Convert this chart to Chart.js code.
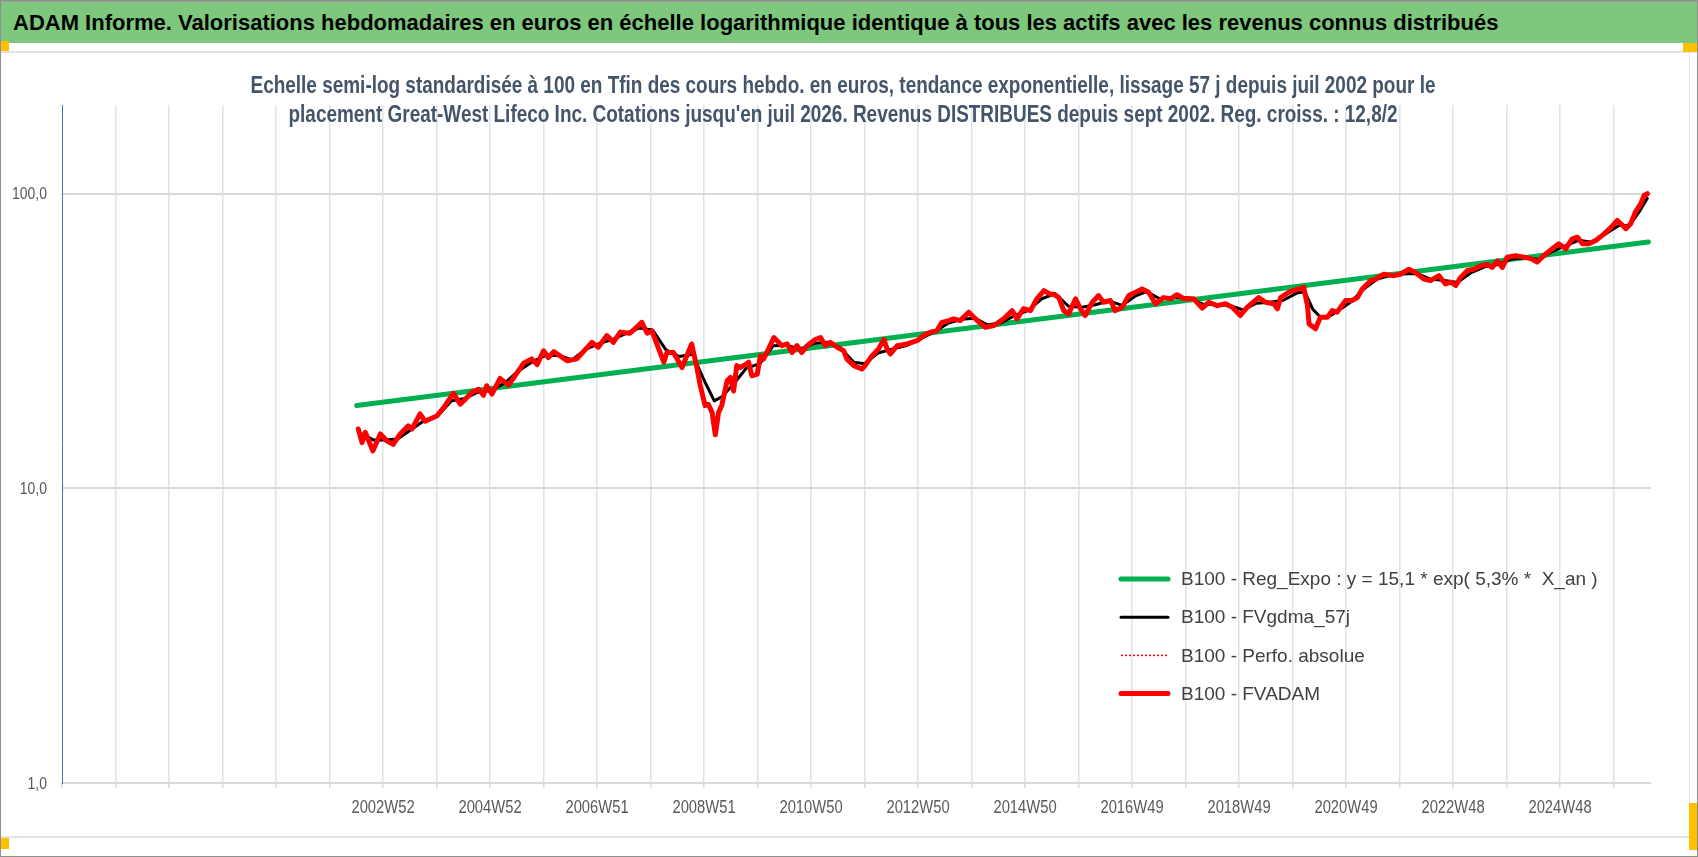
<!DOCTYPE html>
<html><head><meta charset="utf-8">
<script src="https://cdn.jsdelivr.net/npm/chart.js@4.4.1/dist/chart.umd.min.js"></script>
<style>
html,body{margin:0;padding:0;background:#fff;}
#wrap{position:relative;width:1698px;height:857px;overflow:hidden;font-family:"Liberation Sans",Arial,sans-serif;background:#fff;}
#c{position:absolute;left:0;top:0;}
#frame{position:absolute;left:0;top:0;width:1696px;height:855px;border:1px solid #8E8E8E;pointer-events:none;}
#topline{position:absolute;left:0;top:0;width:1698px;height:2px;background:#A0A0A0;}
#bar{position:absolute;left:0;top:2px;width:1698px;height:41px;background:#7DC87D;}
#bar span{position:absolute;left:13px;top:0;line-height:42px;font-weight:bold;font-size:22px;color:#000;white-space:nowrap;}
#l1{position:absolute;left:0;top:51px;width:1698px;height:2px;background:#E3E3E3;}
#l2{position:absolute;left:0;top:836px;width:1698px;height:2px;background:#E3E3E3;}
#l3{position:absolute;left:1689px;top:53px;width:1px;height:783px;background:#E3E3E3;}
.h{position:absolute;background:#FFC000;}
#sub{position:absolute;left:0;width:1686px;top:71px;text-align:center;font-weight:bold;font-size:23px;line-height:29px;color:#44546A;white-space:nowrap;transform:scaleX(0.824);transform-origin:843px 0;}
</style></head>
<body>
<div id="wrap">
<canvas id="c" width="1698" height="857"></canvas>
<div id="topline"></div>
<div id="bar"><span>ADAM Informe. Valorisations hebdomadaires en euros en échelle logarithmique identique à tous les actifs avec les revenus connus distribués</span></div>
<div id="l1"></div><div id="l2"></div><div id="l3"></div>
<div class="h" style="left:0;top:41px;width:9px;height:10px"></div>
<div class="h" style="left:1683px;top:43px;width:15px;height:9px"></div>
<div class="h" style="left:0;top:838px;width:9px;height:11px"></div>
<div class="h" style="left:1689px;top:803px;width:9px;height:47px"></div>
<div id="sub">Echelle semi-log standardisée à 100 en Tfin des cours hebdo. en euros, tendance exponentielle, lissage 57 j depuis juil 2002 pour le<br>placement Great-West Lifeco Inc. Cotations jusqu'en juil 2026. Revenus DISTRIBUES depuis sept 2002. Reg. croiss. : 12,8/2</div>
<div id="frame"></div>
</div>
<script>
// ---- Data ----
const xTickLabels = ['2002W52','2004W52','2006W51','2008W51','2010W50','2012W50','2014W50','2016W49','2018W49','2020W49','2022W48','2024W48'];
const yTickValues = [1, 10, 100];
const yTickLabels = ['1,0', '10,0', '100,0'];

const seriesNames = [
  'B100 - Reg_Expo : y = 15,1 * exp( 5,3% *  X_an )',
  'B100 - FVgdma_57j',
  'B100 - Perfo. absolue',
  'B100 - FVADAM'
];

const regYears  = [2002.49, 2026.55];
const regValues = [19.1, 68.6];

const fvadamYears = [
2002.52,2002.59,2002.65,2002.79,2002.93,2003.05,2003.17,2003.30,2003.45,2003.52,2003.67,2003.76,2003.98,2004.11,2004.29,2004.42,2004.64,2004.76,2004.85,2004.91,
2005.01,2005.16,2005.32,2005.60,2005.75,2005.85,2005.97,2006.06,2006.16,2006.41,2006.59,2006.87,2006.99,2007.15,2007.27,2007.40,2007.58,2007.80,2007.90,2007.99,
2008.08,2008.21,2008.27,2008.39,2008.55,2008.73,2008.83,2008.89,2008.98,2009.04,2009.11,2009.17,2009.23,2009.29,2009.39,2009.45,2009.51,2009.57,2009.63,2009.73,
2009.79,2009.85,2009.95,2010.01,2010.07,2010.16,2010.26,2010.32,2010.41,2010.51,2010.60,2010.69,2010.78,2010.88,2011.03,2011.13,2011.22,2011.31,2011.44,2011.56,
2011.62,2011.75,2011.90,2011.96,2012.09,2012.21,2012.31,2012.37,2012.43,2012.56,2012.74,2012.93,2013.05,2013.18,2013.30,2013.39,2013.52,2013.61,2013.73,2013.89,
2014.05,2014.20,2014.36,2014.54,2014.70,2014.79,2014.91,2015.04,2015.16,2015.29,2015.41,2015.47,2015.57,2015.66,2015.75,2015.88,2015.97,2016.06,2016.19,2016.31,
2016.40,2016.53,2016.62,2016.75,2016.87,2017.00,2017.12,2017.24,2017.37,2017.52,2017.65,2017.77,2017.90,2018.08,2018.24,2018.36,2018.52,2018.67,2018.80,2018.95,
2019.08,2019.29,2019.42,2019.57,2019.64,2019.70,2019.85,2020.04,2020.13,2020.20,2020.23,2020.35,2020.44,2020.57,2020.66,2020.75,2020.91,2021.03,2021.13,2021.22,
2021.38,2021.47,2021.62,2021.81,2021.93,2022.09,2022.21,2022.37,2022.49,2022.65,2022.77,2022.87,2022.96,2023.05,2023.18,2023.30,2023.42,2023.55,2023.64,2023.74,
2023.83,2023.92,2024.08,2024.23,2024.36,2024.48,2024.60,2024.76,2024.88,2025.01,2025.13,2025.23,2025.32,2025.44,2025.57,2025.72,2025.85,2025.97,2026.07,2026.13,
2026.22,2026.31,2026.41,2026.47,2026.53
];
const fvadamValues = [
15.9,14.3,15.5,13.4,15.3,14.5,14.1,15.3,16.3,15.9,17.9,16.9,17.6,18.8,21.0,19.3,21.2,21.7,20.7,22.3,
20.9,23.6,22.4,26.6,27.5,26.3,29.3,27.8,29.1,27.1,27.5,31.3,30.1,33.0,31.3,33.9,33.6,36.6,33.6,34.2,
30.9,26.8,28.9,28.9,25.7,30.9,25.5,22.3,19.1,19.3,18.1,15.2,18.1,19.1,23.2,23.8,21.4,26.1,25.7,26.3,
26.8,24.1,24.4,28.2,27.5,29.7,32.5,31.7,30.5,30.9,28.9,30.5,28.9,30.5,32.0,32.5,30.5,31.3,30.1,29.3,
27.5,26.1,25.4,26.1,28.2,29.7,32.0,29.7,28.6,30.5,30.9,31.7,33.0,33.9,34.3,36.6,37.1,37.6,37.1,39.6,
37.1,35.2,35.7,37.6,40.1,37.6,40.7,40.1,44.0,46.9,45.6,45.6,44.4,40.1,39.1,44.0,40.7,38.6,42.8,45.1,
42.8,43.4,40.1,41.2,45.1,46.3,47.5,46.3,42.3,44.4,44.0,45.4,44.0,44.0,40.9,42.8,41.7,42.3,41.2,38.6,
41.2,44.4,42.8,42.3,40.7,44.4,46.3,47.5,48.1,41.7,36.1,34.8,38.1,38.1,40.1,39.6,43.4,43.4,44.4,47.5,
50.7,51.3,53.3,52.7,53.3,55.4,54.0,51.3,50.7,52.7,49.4,50.1,48.8,51.9,54.9,55.4,56.9,57.5,56.2,59.1,
56.2,60.9,61.6,60.9,60.2,58.6,61.6,65.0,67.6,65.0,70.3,71.2,67.6,67.6,69.4,72.9,76.7,81.1,78.1,76.1,
79.1,86.7,92.5,98.6,100.0
];

const gdmaYears = [
2002.55,2002.8,2003.0,2003.25,2003.5,2003.75,2004.0,2004.25,2004.5,2004.75,2005.0,2005.25,2005.5,2005.75,2006.0,2006.25,2006.5,2006.75,2007.0,2007.25,
2007.5,2007.75,2008.0,2008.25,2008.5,2008.75,2008.95,2009.15,2009.3,2009.5,2009.75,2010.0,2010.25,2010.5,2010.75,2011.0,2011.25,2011.5,2011.75,2011.95,
2012.2,2012.5,2012.75,2013.0,2013.25,2013.5,2013.75,2014.0,2014.25,2014.5,2014.75,2015.0,2015.25,2015.5,2015.75,2016.0,2016.25,2016.5,2016.75,2017.0,
2017.2,2017.45,2017.75,2018.0,2018.25,2018.5,2018.75,2019.0,2019.25,2019.5,2019.75,2020.0,2020.15,2020.3,2020.45,2020.6,2020.75,2021.0,2021.25,2021.5,
2021.75,2022.0,2022.25,2022.5,2022.75,2023.0,2023.25,2023.5,2023.75,2024.0,2024.25,2024.5,2024.75,2025.0,2025.25,2025.5,2025.75,2026.0,2026.2,2026.4,2026.53
];
const gdmaValues = [
15.4,14.6,14.6,14.7,15.8,17.0,17.6,19.8,20.2,21.2,21.5,22.8,25.0,26.8,28.2,28.3,27.3,29.6,31.0,32.0,
33.5,35.0,34.5,29.5,28.0,28.5,23.5,19.8,20.5,22.5,25.6,26.5,30.5,30.6,29.6,31.0,31.3,30.0,26.8,26.5,
28.8,29.8,30.6,32.2,34.0,36.3,37.5,37.8,35.8,36.5,38.6,40.2,44.0,45.8,41.5,41.2,42.0,43.3,41.8,45.0,
46.5,44.0,44.5,44.3,42.2,42.0,41.8,40.3,42.5,42.8,43.5,46.0,46.5,40.5,38.0,38.3,39.8,42.8,47.5,51.3,
52.8,53.6,53.5,51.2,50.8,50.0,54.0,56.5,57.5,60.0,60.6,59.8,63.5,66.5,69.5,68.5,73.0,78.0,78.0,88.0,96.5
];

// ---- Axis geometry (week-based category spacing: one gridline per 52 weeks) ----
const weekStep = 364 / 365.25;
const firstLabelYear = 2002.98;
const firstLabelGrid = 6;
const axisStart = firstLabelYear - firstLabelGrid * weekStep;
const gridCount = 30;
const axisSpan = 29.70;
const axisEnd = axisStart + axisSpan * weekStep;
const gridPositions = [];
for (let k = 0; k < gridCount; k++) gridPositions.push(axisStart + k * weekStep);
const xLabelFor = i => (i >= firstLabelGrid && (i - firstLabelGrid) % 2 === 0) ? (xTickLabels[(i - firstLabelGrid) / 2] || '') : '';

const toXY = (xs, ys) => xs.map((x, i) => ({x: x, y: ys[i]}));

const sans = '"Liberation Sans", Arial, sans-serif';

// Legend drawn inside the plot area (no box), Excel style
const legendPlugin = {
  id: 'insideLegend',
  afterDatasetsDraw(chart, args, opts) {
    const ctx = chart.ctx;
    opts.items.forEach((dsIndex, i) => {
      const ds = chart.data.datasets[dsIndex];
      const y = opts.top + i * opts.rowGap;
      ctx.save();
      ctx.strokeStyle = ds.borderColor;
      ctx.lineWidth = ds.legendLineWidth || ds.borderWidth;
      ctx.setLineDash(ds.borderDash || []);
      ctx.lineCap = ds.borderDash ? 'butt' : 'round';
      ctx.beginPath();
      ctx.moveTo(opts.x1, y);
      ctx.lineTo(opts.x2, y);
      ctx.stroke();
      ctx.setLineDash([]);
      ctx.fillStyle = opts.color;
      ctx.font = opts.font;
      ctx.textBaseline = 'middle';
      ctx.textAlign = 'left';
      ctx.fillText(ds.label, opts.textX, y + 1);
      ctx.restore();
    });
  }
};

// Tick labels in a condensed face (Calibri-like), positioned by the chart's own scales
const condensedTicks = {
  id: 'condensedTicks',
  afterDraw(chart, args, o) {
    const ctx = chart.ctx;
    const xs = chart.scales.x, ys = chart.scales.y;
    ctx.save();
    ctx.fillStyle = o.color;
    ctx.textBaseline = 'middle';
    ctx.font = o.xFont;
    xs.ticks.forEach((t, i) => {
      const lab = xLabelFor(i);
      if (!lab) return;
      ctx.save();
      ctx.translate(xs.getPixelForValue(t.value), xs.top + o.xOffset);
      ctx.scale(o.squeeze, 1);
      ctx.textAlign = 'center';
      ctx.fillText(lab, 0, 0);
      ctx.restore();
    });
    ctx.font = o.yFont;
    ys.ticks.forEach(t => {
      const k = yTickValues.indexOf(t.value);
      if (k < 0) return;
      ctx.save();
      ctx.translate(ys.right - o.yPad, ys.getPixelForValue(t.value) + 1);
      ctx.scale(o.squeeze, 1);
      ctx.textAlign = 'right';
      ctx.fillText(yTickLabels[k], 0, 0);
      ctx.restore();
    });
    ctx.restore();
  }
};

new Chart(document.getElementById('c'), {
  type: 'line',
  data: {
    datasets: [
      { label: seriesNames[0], data: toXY(regYears, regValues), borderColor: '#00B050', borderWidth: 5, legendLineWidth: 5, order: 3 },
      { label: seriesNames[1], data: toXY(gdmaYears, gdmaValues), borderColor: '#000000', borderWidth: 3, legendLineWidth: 3, order: 2 },
      { label: seriesNames[2], data: toXY(fvadamYears, fvadamValues), borderColor: '#FF0000', borderWidth: 1.5, borderDash: [2, 2], legendLineWidth: 1.5, order: 1 },
      { label: seriesNames[3], data: toXY(fvadamYears, fvadamValues), borderColor: '#FF0000', borderWidth: 5, legendLineWidth: 5, order: 0 }
    ]
  },
  options: {
    responsive: false,
    animation: false,
    devicePixelRatio: 1,
    layout: { padding: { top: 105, right: 47, bottom: 0, left: 0 } },
    elements: {
      point: { radius: 0 },
      line: { tension: 0, borderJoinStyle: 'round', borderCapStyle: 'round' }
    },
    plugins: {
      legend: { display: false },
      title: { display: false },
      tooltip: { enabled: false },
      insideLegend: {
        items: [0, 1, 2, 3],
        top: 579, rowGap: 38.2,
        x1: 1121, x2: 1168, textX: 1181,
        font: '19px ' + sans,
        color: '#404040'
      },
      condensedTicks: {
        color: '#595959',
        squeeze: 0.82,
        xFont: '18px ' + sans,
        yFont: '17px ' + sans,
        xOffset: 25,
        yPad: 15
      }
    },
    scales: {
      x: {
        type: 'linear',
        min: axisStart,
        max: axisEnd,
        afterBuildTicks: s => { s.ticks = gridPositions.map(v => ({ value: v })); },
        afterFit: s => { s.height = 74; },
        ticks: { display: false, autoSkip: false, maxRotation: 0, minRotation: 0 },
        grid: {
          color: c => c.index === 0 ? 'rgba(0,0,0,0)' : '#DEE3E9',
          lineWidth: 1.5,
          drawTicks: true,
          tickLength: 5,
          tickColor: '#D9D9D9'
        },
        border: { display: true, color: '#D9D9D9', width: 2 }
      },
      y: {
        type: 'logarithmic',
        min: 1,
        max: 200,
        afterBuildTicks: s => { s.ticks = yTickValues.map(v => ({ value: v })); },
        afterFit: s => { s.width = 62; },
        ticks: { display: false },
        grid: { color: '#D9D9D9', lineWidth: 2, drawTicks: false },
        border: { display: true, color: '#4472C4', width: 1 }
      }
    }
  },
  plugins: [legendPlugin, condensedTicks]
});
</script>
</body></html>
